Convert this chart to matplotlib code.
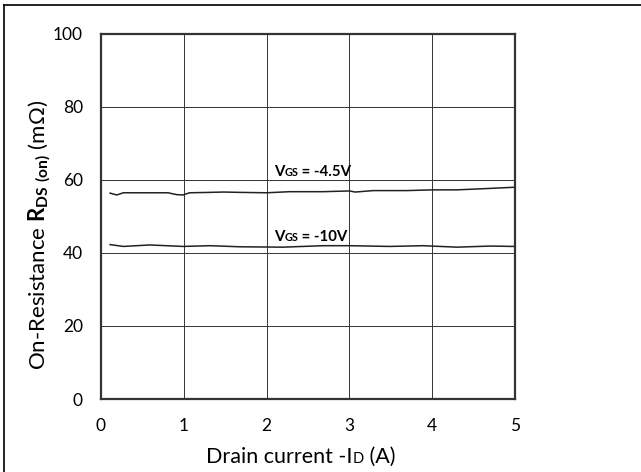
import matplotlib
matplotlib.use("Agg")
import matplotlib.pyplot as plt
from matplotlib.transforms import IdentityTransform
from matplotlib.lines import Line2D

plt.rcParams['font.family'] = ['Lato', 'DejaVu Sans']
plt.rcParams['mathtext.fontset'] = 'custom'
plt.rcParams['mathtext.rm'] = 'Lato'
plt.rcParams['mathtext.bf'] = 'Lato:bold'

# R_DS(on) vs drain current
id_45 = [0.11, 0.19, 0.27, 0.5, 0.81, 0.91, 0.99, 1.07, 1.3, 1.48, 1.7, 2.0, 2.28,
         2.68, 3.0, 3.07, 3.29, 3.69, 4.01, 4.3, 4.7, 4.98]
r_45 = [56.4, 55.9, 56.5, 56.5, 56.5, 56.0, 55.9, 56.5, 56.6, 56.7, 56.6, 56.5, 56.8,
        56.8, 57.0, 56.7, 57.1, 57.1, 57.3, 57.3, 57.7, 58.0]
id_10 = [0.11, 0.27, 0.59, 0.99, 1.32, 1.68, 2.2, 2.68, 3.0, 3.49, 3.89, 4.3, 4.7, 4.98]
r_10 = [42.3, 41.8, 42.2, 41.8, 42.0, 41.7, 41.6, 42.0, 42.0, 41.8, 42.0, 41.6, 41.9, 41.8]

x_ticks = [0, 1, 2, 3, 4, 5]
y_ticks = [0, 20, 40, 60, 80, 100]

fig = plt.figure(figsize=(6.41, 4.72), dpi=100)
ax = fig.add_axes([101 / 641, 1 - 399 / 472, 414 / 641, 365 / 472])

ax.plot(id_45, r_45, color='#222222', lw=1.1)
ax.plot(id_10, r_10, color='#222222', lw=1.1)

ax.set_xlim(0, 5)
ax.set_ylim(0, 100)
ax.set_xticks(x_ticks)
ax.set_yticks(y_ticks)
ax.grid(True, color='#333333', lw=0.7)
ax.tick_params(length=0, labelsize=12.5, colors='black')
ax.tick_params(axis='x', pad=14)
ax.tick_params(axis='y', pad=13)
for sp in ax.spines.values():
    sp.set_linewidth(1.6)
    sp.set_color('#333333')

ax.set_ylabel(r'On-Resistance $\mathbf{R_{DS\ (on)}}$ (m$\Omega$)', fontsize=16)
ax.yaxis.set_label_coords(-48 / 414, 0.45)

# outer frame (top and left edges visible)
fig.add_artist(Line2D([4 / 641, 4 / 641], [0, 1 - 5 / 472], transform=fig.transFigure,
                      color='#111111', lw=1.3))
fig.add_artist(Line2D([4 / 641, 1], [1 - 5 / 472, 1 - 5 / 472], transform=fig.transFigure,
                      color='#111111', lw=1.3))

fig.canvas.draw()
renderer = fig.canvas.get_renderer()


def chain(x, y, pieces):
    # x, y in display pixels (origin bottom-left), pieces = (text, size, weight)
    arts = []
    for s, size, weight in pieces:
        t = fig.text(x, y, s, transform=IdentityTransform(), fontsize=size,
                     fontweight=weight, ha='left', va='baseline')
        x = t.get_window_extent(renderer).x1
        arts.append(t)
    return arts, x


def place(xd, yd, pieces):
    px, py = ax.transData.transform((xd, yd))
    arts, xend = chain(px, py, pieces)
    return arts


place(2.09, 61.0, [('V', 10.8, 'bold'), ('GS', 7.8, 'bold'), (' = -4.5V', 10.8, 'bold')])
place(2.09, 43.4, [('V', 10.8, 'bold'), ('GS', 7.8, 'bold'), (' = -10V', 10.8, 'bold')])

# x label with small "D"
xl_pieces = [('Drain current -I', 15.5, 'normal'), ('D', 10.5, 'normal'), (' (A)', 15.5, 'normal')]
arts, xend = chain(0, 472 - 463, xl_pieces)
shift = 301 - xend / 2
for a in arts:
    x0, y0 = a.get_position()
    a.set_position((x0 + shift, y0))

fig.savefig('out.png', dpi=100)
